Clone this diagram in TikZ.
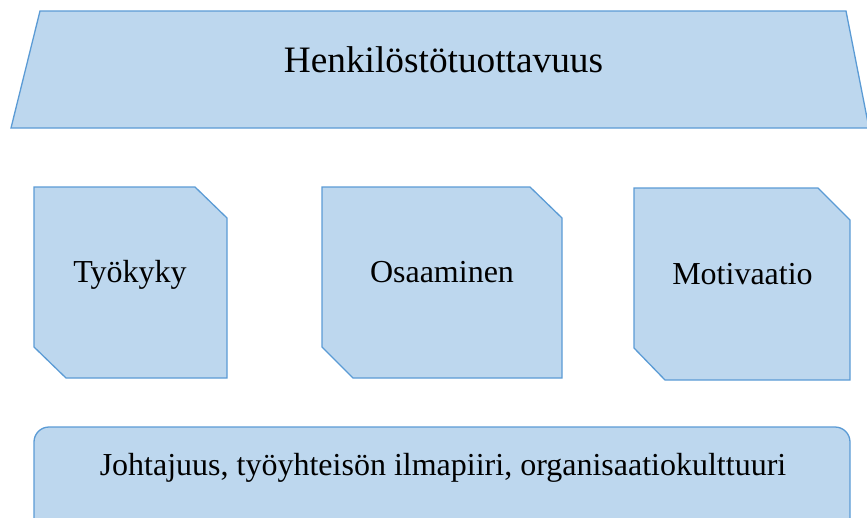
\documentclass[tikz,border=0pt]{standalone}
\usepackage{fontspec}
\setmainfont{Liberation Serif}
\definecolor{boxfill}{HTML}{BDD7EE}
\definecolor{boxline}{HTML}{5B9BD5}
\begin{document}
\begin{tikzpicture}[x=1pt,y=-1pt,
  shapestyle/.style={fill=boxfill,draw=boxline,line width=1.3pt,line join=miter},
  lbl/.style={anchor=base,inner sep=0pt,font=\fontsize{32}{38}\selectfont},
  title/.style={anchor=base,inner sep=0pt,font=\fontsize{37.3}{44}\selectfont}]
\useasboundingbox (0,0) rectangle (867,517);
% top trapezoid
\path[shapestyle] (40,11) -- (846,11) -- (869,128) -- (11,128) -- cycle;
\node[title] (t) at (443.5,72.7) {Henkilöstötuottavuus};
% three boxes
\path[shapestyle] (34,187) -- (195,187) -- (227,218) -- (227,378) -- (66,378) -- (34,347) -- cycle;
\node[lbl] (a) at (130,282) {Työkyky};
\path[shapestyle] (322,187) -- (530,187) -- (562,218) -- (562,378) -- (353,378) -- (322,347) -- cycle;
\node[lbl] (b) at (442,282) {Osaaminen};
\path[shapestyle] (634,188) -- (818,188) -- (850,220) -- (850,380) -- (665,380) -- (634,348) -- cycle;
\node[lbl] (c) at (742.5,284.3) {Motivaatio};
% bottom rounded box
\path[shapestyle,rounded corners=15pt] (34,540) -- (34,427) -- (850,427) -- (850,540);
\node[lbl] (d) at (443,475) {Johtajuus, työyhteisön ilmapiiri, organisaatiokulttuuri};
\end{tikzpicture}
\end{document}
